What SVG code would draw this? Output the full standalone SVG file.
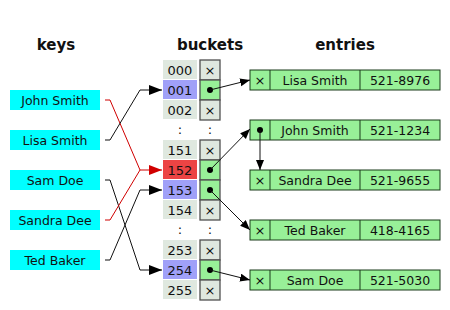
<svg xmlns="http://www.w3.org/2000/svg" width="450" height="310" viewBox="0 0 450 310">
<defs>
<marker id="ab" markerUnits="userSpaceOnUse" markerWidth="14" markerHeight="10" refX="13" refY="5" orient="auto"><path d="M0,0 L13,5 L0,10 Z" fill="#000"/></marker>
<marker id="ar" markerUnits="userSpaceOnUse" markerWidth="14" markerHeight="10" refX="13" refY="5" orient="auto"><path d="M0,0 L13,5 L0,10 Z" fill="#d00000"/></marker>
<marker id="as" markerUnits="userSpaceOnUse" markerWidth="10" markerHeight="10" refX="10" refY="4" orient="auto"><path d="M0,0 L10,4 L0,8 Z" fill="#000"/></marker>
</defs>
<style>
text{font-family:"DejaVu Sans",sans-serif;text-anchor:middle;fill:#111}
.t{font-size:15px;font-weight:bold}
.k{font-size:12.5px}
.n{font-size:13px}
.key{fill:#00ffff}
.idx{fill:#dfe8df}
.blue{fill:#a0a0f8}
.red{fill:#ec4444}
.pc{fill:#dfe8df;stroke:#505050;stroke-width:1.3}
.pf{fill:#98f098;stroke:#505050;stroke-width:1.3}
.e{fill:#98f098;stroke:#1a3a1a;stroke-width:1}
.x{font-size:13px}
.ln{fill:none;stroke:#111;stroke-width:1}
.lr{fill:none;stroke:#d00000;stroke-width:1}
.dot{fill:#000}
</style>
<text class="t" x="56" y="50">keys</text>
<text class="t" x="210" y="50">buckets</text>
<text class="t" x="345" y="50">entries</text>
<g id="key-john"><rect class="key" x="10" y="90" width="90" height="20"/><text class="k" x="55" y="104.5">John Smith</text></g>
<g id="key-lisa"><rect class="key" x="10" y="130" width="90" height="20"/><text class="k" x="55" y="144.5">Lisa Smith</text></g>
<g id="key-sam"><rect class="key" x="10" y="170" width="90" height="20"/><text class="k" x="55" y="184.5">Sam Doe</text></g>
<g id="key-sandra"><rect class="key" x="10" y="210" width="90" height="20"/><text class="k" x="55" y="224.5">Sandra Dee</text></g>
<g id="key-ted"><rect class="key" x="10" y="250" width="90" height="20"/><text class="k" x="55" y="264.5">Ted Baker</text></g>
<g id="buckets">
<g id="b000"><rect class="idx" x="163" y="60" width="34" height="19"/><text class="n" x="180" y="74.5">000</text><rect class="pc" x="200" y="60" width="20" height="20"/><text class="x" x="210" y="74.5">×</text></g>
<g id="b001"><rect class="blue" x="163" y="80" width="34" height="19"/><text class="n" x="180" y="94.5">001</text><rect class="pf" x="200" y="80" width="20" height="20"/><circle class="dot" cx="210" cy="90" r="3"/></g>
<g id="b002"><rect class="idx" x="163" y="100" width="34" height="19"/><text class="n" x="180" y="114.5">002</text><rect class="pc" x="200" y="100" width="20" height="20"/><text class="x" x="210" y="114.5">×</text></g>
<text class="n" x="180" y="134">:</text><text class="n" x="210" y="134">:</text>
<g id="b151"><rect class="idx" x="163" y="140" width="34" height="19"/><text class="n" x="180" y="154.5">151</text><rect class="pc" x="200" y="140" width="20" height="20"/><text class="x" x="210" y="154.5">×</text></g>
<g id="b152"><rect class="red" x="163" y="160" width="34" height="19"/><text class="n" x="180" y="174.5">152</text><rect class="pf" x="200" y="160" width="20" height="20"/><circle class="dot" cx="210" cy="170" r="3"/></g>
<g id="b153"><rect class="blue" x="163" y="180" width="34" height="19"/><text class="n" x="180" y="194.5">153</text><rect class="pf" x="200" y="180" width="20" height="20"/><circle class="dot" cx="210" cy="190" r="3"/></g>
<g id="b154"><rect class="idx" x="163" y="200" width="34" height="19"/><text class="n" x="180" y="214.5">154</text><rect class="pc" x="200" y="200" width="20" height="20"/><text class="x" x="210" y="214.5">×</text></g>
<text class="n" x="180" y="234">:</text><text class="n" x="210" y="234">:</text>
<g id="b253"><rect class="idx" x="163" y="240" width="34" height="19"/><text class="n" x="180" y="254.5">253</text><rect class="pc" x="200" y="240" width="20" height="20"/><text class="x" x="210" y="254.5">×</text></g>
<g id="b254"><rect class="blue" x="163" y="260" width="34" height="19"/><text class="n" x="180" y="274.5">254</text><rect class="pf" x="200" y="260" width="20" height="20"/><circle class="dot" cx="210" cy="270" r="3"/></g>
<g id="b255"><rect class="idx" x="163" y="280" width="34" height="19"/><text class="n" x="180" y="294.5">255</text><rect class="pc" x="200" y="280" width="20" height="20"/><text class="x" x="210" y="294.5">×</text></g>
</g>
<g id="entry-lisa"><rect class="e" x="250" y="70" width="190" height="20"/><line class="e" x1="270" y1="70" x2="270" y2="90"/><line class="e" x1="360" y1="70" x2="360" y2="90"/><text class="x" x="260" y="84.5">×</text><text class="k" x="315" y="84.5">Lisa Smith</text><text class="k" x="400" y="84.5">521-8976</text></g>
<g id="entry-john"><rect class="e" x="250" y="120" width="190" height="20"/><line class="e" x1="270" y1="120" x2="270" y2="140"/><line class="e" x1="360" y1="120" x2="360" y2="140"/><circle class="dot" cx="260" cy="130" r="3"/><text class="k" x="315" y="134.5">John Smith</text><text class="k" x="400" y="134.5">521-1234</text></g>
<g id="entry-sandra"><rect class="e" x="250" y="170" width="190" height="20"/><line class="e" x1="270" y1="170" x2="270" y2="190"/><line class="e" x1="360" y1="170" x2="360" y2="190"/><text class="x" x="260" y="184.5">×</text><text class="k" x="315" y="184.5">Sandra Dee</text><text class="k" x="400" y="184.5">521-9655</text></g>
<g id="entry-ted"><rect class="e" x="250" y="220" width="190" height="20"/><line class="e" x1="270" y1="220" x2="270" y2="240"/><line class="e" x1="360" y1="220" x2="360" y2="240"/><text class="x" x="260" y="234.5">×</text><text class="k" x="315" y="234.5">Ted Baker</text><text class="k" x="400" y="234.5">418-4165</text></g>
<g id="entry-sam"><rect class="e" x="250" y="270" width="190" height="20"/><line class="e" x1="270" y1="270" x2="270" y2="290"/><line class="e" x1="360" y1="270" x2="360" y2="290"/><text class="x" x="260" y="284.5">×</text><text class="k" x="315" y="284.5">Sam Doe</text><text class="k" x="400" y="284.5">521-5030</text></g>
<g id="connectors">
<path class="lr" d="M105,100 H110 L140,170 H162" marker-end="url(#ar)"/>
<path class="ln" d="M105,140 H110 L140,90 H162" marker-end="url(#ab)"/>
<path class="ln" d="M105,180 H110 L140,270 H162" marker-end="url(#ab)"/>
<path class="lr" d="M105,220 H110 L140,170"/>
<path class="ln" d="M105,260 H110 L140,190 H162" marker-end="url(#ab)"/>
<line class="ln" x1="210" y1="90" x2="250" y2="80" marker-end="url(#as)"/>
<line class="ln" x1="210" y1="170" x2="250" y2="129" marker-end="url(#as)"/>
<line class="ln" x1="210" y1="190" x2="250" y2="230" marker-end="url(#as)"/>
<line class="ln" x1="210" y1="270" x2="250" y2="280" marker-end="url(#as)"/>
<line class="ln" x1="260" y1="130" x2="260" y2="170" stroke="#444" marker-end="url(#as)"/>
</g>
</svg>
